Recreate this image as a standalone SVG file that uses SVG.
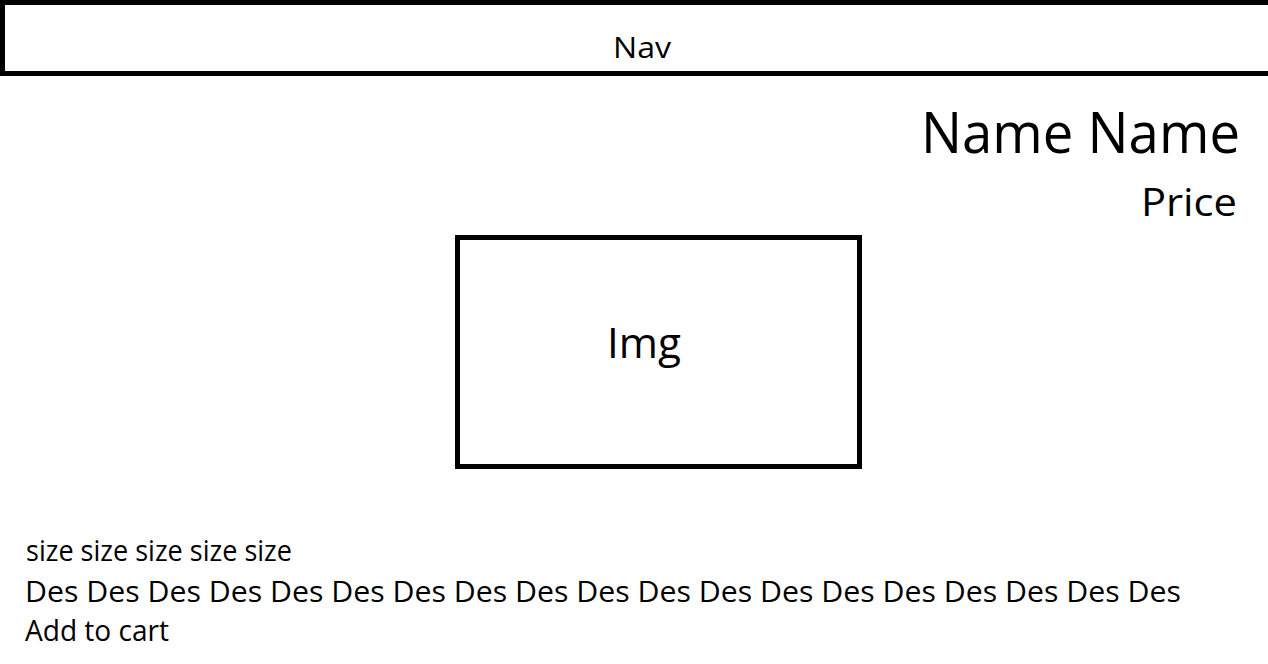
<svg xmlns="http://www.w3.org/2000/svg" width="1268" height="664" viewBox="0 0 1268 664">
<style>
.box{fill:#fff;stroke:#000;stroke-width:5}
text{font-family:"Open Sans","Noto Sans",Lato,sans-serif;fill:#000}
.body{font-size:30px}
</style>
<rect width="1268" height="664" fill="#fff"/>
<g id="nav">
<rect class="box" x="2.5" y="2.5" width="1275" height="71"/>
<text x="613" y="58" font-size="30" textLength="58" lengthAdjust="spacingAndGlyphs">Nav</text>
</g>
<g id="name">
<text x="921" y="153" font-size="57" textLength="319" lengthAdjust="spacingAndGlyphs">Name Name</text>
</g>
<g id="price">
<text x="1141" y="216" font-size="38" textLength="96" lengthAdjust="spacingAndGlyphs">Price</text>
</g>
<g id="img">
<rect class="box" x="457.5" y="237.5" width="402" height="229"/>
<text x="607" y="358" font-size="42" textLength="74" lengthAdjust="spacingAndGlyphs">Img</text>
</g>
<g id="size">
<text class="body" x="26" y="561" textLength="266" lengthAdjust="spacingAndGlyphs">size size size size size</text>
</g>
<g id="des">
<text class="body" x="25" y="602" textLength="1156" lengthAdjust="spacingAndGlyphs">Des Des Des Des Des Des Des Des Des Des Des Des Des Des Des Des Des Des Des</text>
</g>
<g id="cart">
<text class="body" x="25" y="641" textLength="144" lengthAdjust="spacingAndGlyphs">Add to cart</text>
</g>
<g id="connectors"></g>
</svg>
